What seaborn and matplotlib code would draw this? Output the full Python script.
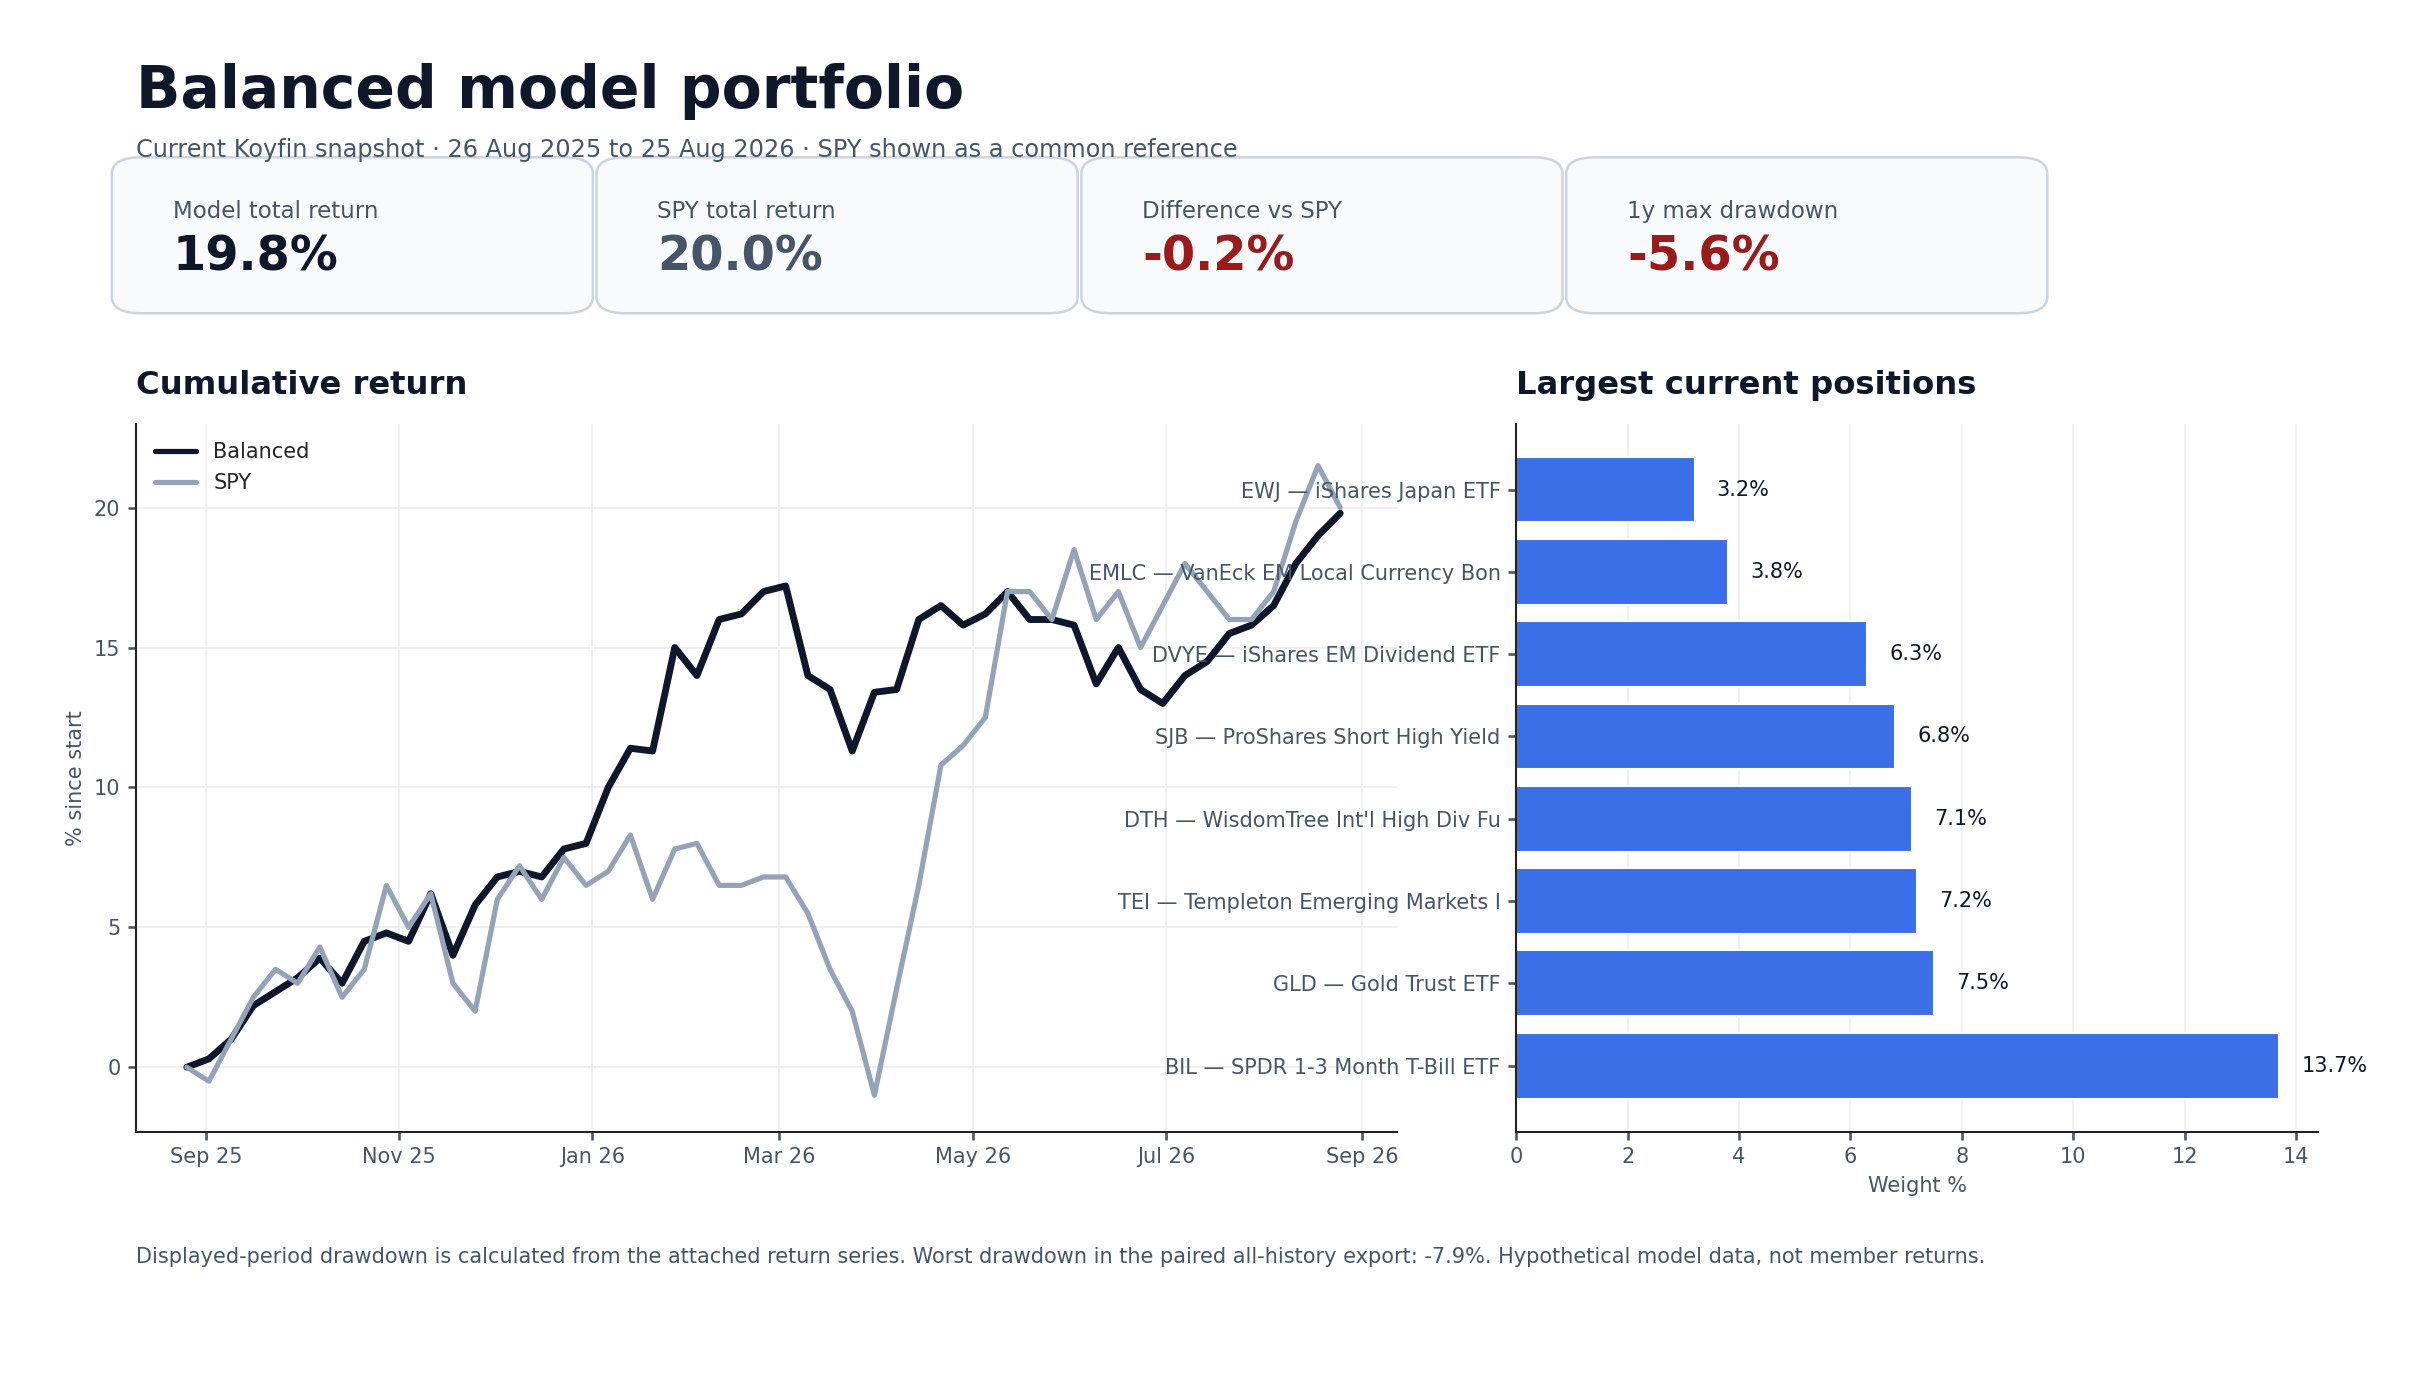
import pandas as pd
import numpy as np
import matplotlib
matplotlib.use("Agg")
import matplotlib.pyplot as plt
import matplotlib.dates as mdates
from matplotlib.patches import FancyBboxPatch
import seaborn as sns

dates = pd.date_range("2025-08-26", periods=53, freq="7D")
balanced = [0, 0.3, 1.0, 2.2, 2.7, 3.2, 3.9, 3.0, 4.5, 4.8, 4.5, 6.2, 4.0, 5.8, 6.8, 7.0, 6.8, 7.8, 8.0,
            10.0, 11.4, 11.3, 15.0, 14.0, 16.0, 16.2, 17.0, 17.2, 14.0, 13.5, 11.3, 13.4, 13.5, 16.0, 16.5,
            15.8, 16.2, 17.0, 16.0, 16.0, 15.8, 13.7, 15.0, 13.5, 13.0, 14.0, 14.5, 15.5, 15.8, 16.5, 18.0,
            19.0, 19.8]
spy = [0, -0.5, 1.0, 2.5, 3.5, 3.0, 4.3, 2.5, 3.5, 6.5, 5.0, 6.2, 3.0, 2.0, 6.0, 7.2, 6.0, 7.5, 6.5,
       7.0, 8.3, 6.0, 7.8, 8.0, 6.5, 6.5, 6.8, 6.8, 5.5, 3.5, 2.0, -1.0, 2.8, 6.5, 10.8, 11.5, 12.5, 17.0,
       17.0, 16.0, 18.5, 16.0, 17.0, 15.0, 16.5, 18.0, 17.0, 16.0, 16.0, 17.0, 19.5, 21.5, 20.0]

positions = ["EWJ — iShares Japan ETF", "EMLC — VanEck EM Local Currency Bon", "DVYE — iShares EM Dividend ETF",
             "SJB — ProShares Short High Yield", "DTH — WisdomTree Int'l High Div Fu",
             "TEI — Templeton Emerging Markets I", "GLD — Gold Trust ETF", "BIL — SPDR 1-3 Month T-Bill ETF"]
weights = [3.2, 3.8, 6.3, 6.8, 7.1, 7.2, 7.5, 13.7]

card_labels = ["Model total return", "SPY total return", "Difference vs SPY", "1y max drawdown"]
card_values = ["19.8%", "20.0%", "-0.2%", "-5.6%"]
card_colors = ["#0f172a", "#475569", "#991b1b", "#991b1b"]

sns.set_theme(style="whitegrid")
plt.rcParams['font.family'] = ['DejaVu Sans']
grid_c = "#eeeeee"
dark = "#0f172a"
muted = "#475569"

fig = plt.figure(figsize=(16.2, 9.2), dpi=150)
fig.patch.set_facecolor("white")

fig.text(0.056, 0.934, "Balanced model portfolio", fontsize=28, fontweight="bold", color=dark, va="center")
fig.text(0.056, 0.891, "Current Koyfin snapshot · 26 Aug 2025 to 25 Aug 2026 · SPY shown as a common reference",
         fontsize=11.5, color=muted, va="center")

for i in range(4):
    x0 = 0.046 + i * 0.1995
    box = FancyBboxPatch((x0, 0.773), 0.198, 0.113, boxstyle="round,pad=0,rounding_size=0.012",
                         transform=fig.transFigure, facecolor="#f8fafc", edgecolor="#cbd5e1", lw=1.2)
    fig.patches.append(box)
    fig.text(x0 + 0.025, 0.847, card_labels[i], fontsize=11, color=muted, va="center")
    fig.text(x0 + 0.025, 0.814, card_values[i], fontsize=23, fontweight="bold", color=card_colors[i], va="center")

ax = fig.add_axes([0.056, 0.180, 0.519, 0.513])
df = pd.DataFrame({"date": list(dates) * 2, "value": balanced + spy,
                   "series": ["Balanced"] * len(dates) + ["SPY"] * len(dates)})
sns.lineplot(data=df, x="date", y="value", hue="series", palette={"Balanced": dark, "SPY": "#94a3b8"},
             ax=ax, linewidth=2.5)
ax.lines[0].set_linewidth(3.3)
ax.set_xlim(pd.Timestamp("2025-08-10"), pd.Timestamp("2026-09-12"))
ax.set_ylim(-2.3, 23)
ax.xaxis.set_major_locator(mdates.MonthLocator(bymonth=[1, 3, 5, 7, 9, 11]))
ax.xaxis.set_major_formatter(mdates.DateFormatter("%b %y"))
ax.set_xlabel("")
ax.set_ylabel("% since start", color=muted, fontsize=10)
ax.set_title("Cumulative return", loc="left", fontsize=15.5, fontweight="bold", color=dark, pad=14)

ax2 = fig.add_axes([0.624, 0.180, 0.330, 0.513])
sns.barplot(x=weights, y=positions, color="#3b6fe8", saturation=1, ax=ax2, width=0.8)
for i, w in enumerate(weights):
    ax2.text(w + 0.4, i, f"{w}%", va="center", fontsize=10, color=dark)
ax2.set_xlim(0, 14.4)
ax2.set_ylim(7.8, -0.8)
ax2.set_xticks(range(0, 15, 2))
ax2.set_xlabel("Weight %", color=muted, fontsize=10)
ax2.set_title("Largest current positions", loc="left", fontsize=15.5, fontweight="bold", color=dark, pad=14)

for a in (ax, ax2):
    a.set_facecolor("white")
    a.grid(color=grid_c, lw=0.8)
    for s in ("top", "right"):
        a.spines[s].set_visible(False)
    for s in ("left", "bottom"):
        a.spines[s].set_color("#222222")
        a.spines[s].set_linewidth(1.0)
    a.tick_params(colors=muted, labelsize=10, length=4, left=True, bottom=True)
ax2.grid(axis="y", visible=False)
ax2.set_axisbelow(True)

leg = ax.legend(loc="upper left", frameon=False, fontsize=10)
leg.set_title(None)

fig.text(0.056, 0.085, "Displayed-period drawdown is calculated from the attached return series. Worst drawdown in the "
         "paired all-history export: -7.9%. Hypothetical model data, not member returns.", fontsize=10, color=muted)

fig.savefig("out.png", dpi=150)
